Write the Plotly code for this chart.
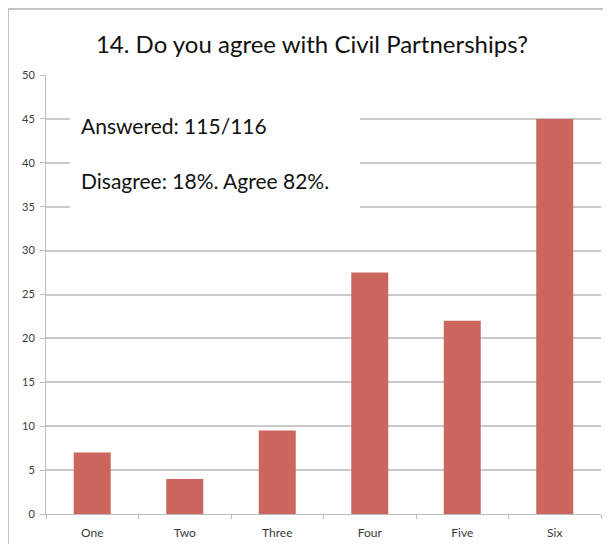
import plotly.graph_objects as go

categories = ["One", "Two", "Three", "Four", "Five", "Six"]
values = [7, 4, 9.5, 27.5, 22, 45]
y_ticks = [0, 5, 10, 15, 20, 25, 30, 35, 40, 45, 50]
title_text = "14. Do you agree with Civil Partnerships?"
note_lines = ["Answered: 115/116", "Disagree: 18%. Agree 82%."]

# page body has an 8px margin; work in screen pixels and offset
OFF = 8
SW, SH = 611, 544
W, H = SW - OFF, SH - OFF
left, right, top, bottom = 46, 601, 75, 514  # plot area in screen px
ml, mr, mt, mb = left - OFF, (SW - right), top - OFF, (SH - bottom)

def px_x(x):
    return (x - left) / (right - left)

def px_y(y):
    return (bottom - y) / (bottom - top)

fig = go.Figure(go.Bar(
    x=categories, y=values,
    marker=dict(color="#cc655e", line=dict(width=0)),
    hoverinfo="x+y",
))

fig.update_layout(
    width=W, height=H,
    margin=dict(l=ml, r=mr, t=mt, b=mb),
    paper_bgcolor="white", plot_bgcolor="white",
    bargap=0.6,
    showlegend=False,
    font=dict(family="Lato, 'Open Sans', sans-serif", color="#333333"),
    title=dict(text=title_text, x=(312 - OFF) / W, xref="container", xanchor="center",
               y=1 - (45 - OFF) / H, yanchor="middle", yref="container",
               font=dict(size=24, color="#111111", family="Lato, sans-serif")),
    xaxis=dict(
        showgrid=False, showline=True, linecolor="#bdbdbd", linewidth=1,
        ticks="outside", tickson="boundaries", ticklen=4, tickcolor="#bdbdbd",
        tickfont=dict(size=12, color="#3a3a3a"), ticklabelstandoff=8,
        automargin=False,
    ),
    yaxis=dict(
        range=[0, 50], tickvals=y_ticks,
        showgrid=True, gridcolor="#c9c9c9", gridwidth=1.5,
        showline=True, linecolor="#bdbdbd", linewidth=1,
        ticks="outside", ticklen=5, tickcolor="#bdbdbd",
        tickfont=dict(size=11, color="#3a3a3a"), ticklabelstandoff=3,
        zeroline=False, automargin=False,
    ),
    shapes=[
        dict(type="rect", xref="paper", yref="paper",
             x0=px_x(8), x1=px_x(640), y0=px_y(600), y1=px_y(9),
             line=dict(color="#c4c4c4", width=2), fillcolor="rgba(0,0,0,0)",
             layer="above"),
        dict(type="rect", xref="paper", yref="paper",
             x0=px_x(70), x1=px_x(360), y0=px_y(218), y1=px_y(100),
             line=dict(width=0), fillcolor="white", layer="above"),
    ],
    annotations=[
        dict(text=note_lines[0], xref="paper", yref="paper",
             x=px_x(79), y=px_y(125), xanchor="left", yanchor="middle",
             showarrow=False, font=dict(size=21, color="#111111")),
        dict(text=note_lines[1], xref="paper", yref="paper",
             x=px_x(79), y=px_y(180), xanchor="left", yanchor="middle",
             showarrow=False, font=dict(size=21, color="#111111")),
    ],
)

fig.write_html("out.html")
